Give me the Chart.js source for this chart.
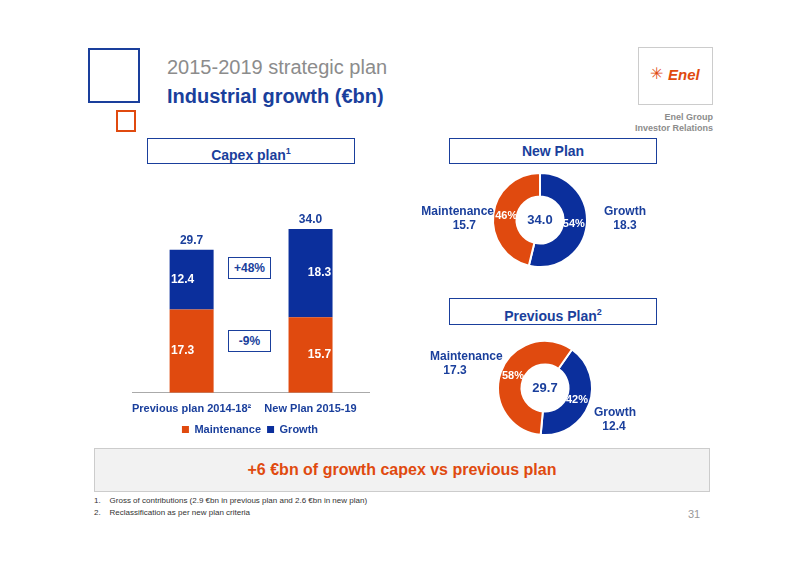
<!DOCTYPE html>
<html><head><meta charset="utf-8">
<script src="https://cdn.jsdelivr.net/npm/chart.js@4.4.0/dist/chart.umd.min.js"></script>
<style>
body{margin:0;width:800px;height:565px;position:relative;background:#fff;font-family:"Liberation Sans",Arial,sans-serif;overflow:hidden}
.a{position:absolute}
.box{position:absolute;border:1px solid #1a3f9c;box-sizing:border-box;color:#1a3f9c;font-weight:bold;font-size:14px;text-align:center;background:#fff}
.lbl{position:absolute;color:#1a3f9c;font-weight:bold;font-size:12px;line-height:14px}
</style></head><body>
<div class="a" style="left:88px;top:48px;width:52px;height:55px;border:2px solid #1a3f9c;box-sizing:border-box"></div>
<div class="a" style="left:116px;top:110px;width:20px;height:22px;border:2px solid #e04a0f;box-sizing:border-box"></div>
<div class="a" style="left:167px;top:56px;font-size:20px;color:#8c8c8c">2015-2019 strategic plan</div>
<div class="a" style="left:167px;top:85px;font-size:20px;color:#1a3f9c;font-weight:bold">Industrial growth (€bn)</div>
<div class="a" style="left:638px;top:47px;width:75px;height:58px;border:1px solid #ccc;box-sizing:border-box"></div>
<div class="a" style="left:668px;top:66px;font-size:15px;color:#e04a0f;font-weight:bold;font-style:italic">Enel</div>
<div class="a" style="left:650px;top:64px;font-size:16px;color:#e04a0f">✳</div>
<div class="a" style="right:87px;top:112px;font-size:9px;color:#8c8c8c;text-align:right;line-height:11px;font-weight:bold">Enel Group<br>Investor Relations</div>
<div class="box" style="left:147px;top:138px;width:208px;height:26px;line-height:24px">Capex plan<sup style="font-size:9px">1</sup></div>
<div class="box" style="left:449px;top:138px;width:208px;height:26px;line-height:24px">New Plan</div>
<div class="box" style="left:449px;top:298px;width:208px;height:27px;line-height:26px">Previous Plan<sup style="font-size:9px">2</sup></div>
<div class="a" style="left:130px;top:199px;width:240px;height:246px"><canvas id="barc"></canvas></div>
<div class="box" style="left:228px;top:257px;width:43px;height:22px;line-height:20px;font-size:12px">+48%</div>
<div class="box" style="left:228px;top:330px;width:43px;height:22px;line-height:20px;font-size:12px">-9%</div>
<div class="a" style="left:480px;top:160px;width:120px;height:120px"><canvas id="d1"></canvas></div>
<div class="a" style="left:485px;top:328px;width:120px;height:120px"><canvas id="d2"></canvas></div>
<div class="lbl" style="left:400px;top:204px;width:94px;text-align:right">Maintenance<br><span style="margin-right:18px">15.7</span></div>
<div class="lbl" style="left:600px;top:204px;width:50px;text-align:center">Growth<br>18.3</div>
<div class="lbl" style="left:430px;top:349px">Maintenance<br>&nbsp;&nbsp;&nbsp;&nbsp;17.3</div>
<div class="lbl" style="left:594px;top:405px;width:40px;text-align:center">Growth<br>12.4</div>
<div class="a" style="left:94px;top:448px;width:616px;height:44px;background:#f2f2f2;border:1px solid #ccc;box-sizing:border-box;text-align:center;line-height:42px;color:#e04a0f;font-weight:bold;font-size:16px">+6 €bn of growth capex vs previous plan</div>
<div class="a" style="left:94px;top:495px;font-size:8px;line-height:12px;color:#333">1.&nbsp;&nbsp;&nbsp;&nbsp;Gross of contributions (2.9 €bn in previous plan and 2.6 €bn in new plan)<br>2.&nbsp;&nbsp;&nbsp;&nbsp;Reclassification as per new plan criteria</div>
<div class="a" style="left:688px;top:508px;font-size:11px;color:#999">31</div>
<script>
const categories = ['Previous plan 2014-18²', 'New Plan 2015-19'];
const maintenance = [17.3, 15.7];
const growth = [12.4, 18.3];
const totals = [29.7, 34.0];
const newPlan = [18.3, 15.7];      // growth, maintenance
const newPlanPct = ['54%', '46%'];
const prevPlan = [12.4, 17.3];
const prevPlanPct = ['42%', '58%'];
const ORANGE = '#e04a0f', BLUE = '#0b2f9c';
const F = 'Liberation Sans';

const barLabels = {
  id: 'barLabels',
  afterDatasetsDraw(chart) {
    const ctx = chart.ctx;
    ctx.save();
    ctx.font = 'bold 12px ' + F;
    ctx.textAlign = 'center';
    ctx.textBaseline = 'middle';
    chart.data.datasets.forEach((ds, i) => {
      chart.getDatasetMeta(i).data.forEach((b, j) => {
        ctx.fillStyle = '#fff';
        ctx.fillText(ds.data[j].toFixed(1), b.x - (j === 0 ? 9 : -9), (b.y + b.base) / 2);
      });
    });
    const top = chart.getDatasetMeta(1).data;
    ctx.fillStyle = '#1a3f9c';
    top.forEach((b, j) => ctx.fillText(totals[j].toFixed(1), b.x, b.y - 9));
    ctx.restore();
  }
};

new Chart(document.getElementById('barc'), {
  type: 'bar',
  data: { labels: categories, datasets: [
    { label: 'Maintenance', data: maintenance, backgroundColor: ORANGE, barPercentage: 0.37, categoryPercentage: 1 },
    { label: 'Growth', data: growth, backgroundColor: BLUE, barPercentage: 0.37, categoryPercentage: 1 }
  ]},
  options: {
    responsive: true, maintainAspectRatio: false, animation: false,
    layout: { padding: { top: 30 } },
    plugins: {
      legend: { position: 'bottom', labels: { boxWidth: 7, boxHeight: 7, padding: 6, color: '#1a3f9c', font: { family: F, size: 11, weight: 'bold' } } },
      tooltip: { enabled: false }
    },
    scales: {
      x: { stacked: true, grid: { display: false }, border: { color: '#aaa' },
           ticks: { color: '#1a3f9c', autoSkip: false, maxRotation: 0, minRotation: 0, font: { family: F, size: 11, weight: 'bold' }, padding: 2 } },
      y: { stacked: true, display: false, min: 0, max: 34 }
    }
  },
  plugins: [barLabels]
});

function donut(id, data, pct, rotation, center) {
  new Chart(document.getElementById(id), {
    type: 'doughnut',
    data: { labels: ['Growth', 'Maintenance'], datasets: [{ data, backgroundColor: [BLUE, ORANGE], borderColor: '#fff', borderWidth: 2 }] },
    options: {
      responsive: true, maintainAspectRatio: false, animation: false, cutout: '50%', rotation,
      layout: { padding: 12 },
      plugins: { legend: { display: false }, tooltip: { enabled: false } }
    },
    plugins: [{
      id: 'dl',
      afterDatasetsDraw(chart) {
        const ctx = chart.ctx, arcs = chart.getDatasetMeta(0).data;
        ctx.save();
        ctx.textAlign = 'center'; ctx.textBaseline = 'middle';
        ctx.font = 'bold 11px ' + F;
        arcs.forEach((a, i) => {
          const mid = (a.startAngle + a.endAngle) / 2;
          const r = a.innerRadius + (a.outerRadius - a.innerRadius) * 0.45;
          ctx.fillStyle = '#fff';
          ctx.fillText(pct[i], a.x + Math.cos(mid) * r, a.y + Math.sin(mid) * r);
        });
        ctx.fillStyle = '#1a3f9c'; ctx.font = 'bold 13px ' + F;
        ctx.fillText(center, arcs[0].x, arcs[0].y);
        ctx.restore();
      }
    }]
  });
}
donut('d1', newPlan, newPlanPct, 0, '34.0');
donut('d2', prevPlan, prevPlanPct, 35, '29.7');
</script>
</body></html>
